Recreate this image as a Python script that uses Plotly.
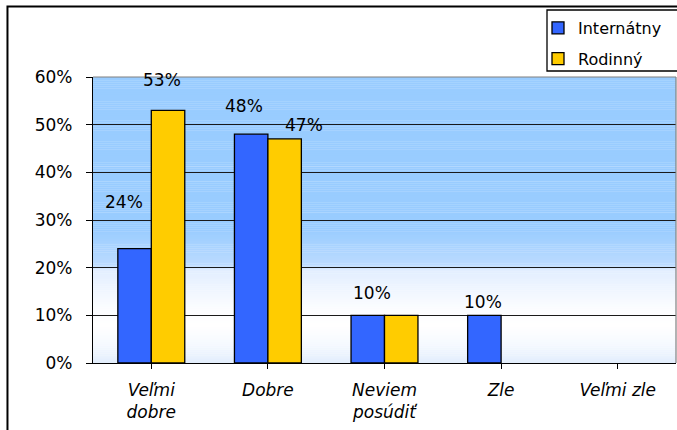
import plotly.graph_objects as go

# ---- data ----
categories = ["Veľmi<br>dobre", "Dobre", "Neviem<br>posúdiť", "Zle", "Veľmi zle"]
internatny = [24, 48, 10, 10, 0]
rodinny = [53, 47, 10, 0, 0]
series_names = ["Internátny", "Rodinný"]
y_ticks = [0, 10, 20, 30, 40, 50, 60]
y_tick_labels = ["0%", "10%", "20%", "30%", "40%", "50%", "60%"]

# ---- styles ----
FONT = "DejaVu Sans"
FS = 17
colors = ["#3366FF", "#FFCC00"]

# which value labels are shown and their pixel offsets (series, category index, dx, dy)
label_specs = [
    (0, 0, -11, 47),
    (1, 0, -6, 30),
    (0, 1, -7, 28),
    (1, 1, 19, 14),
    (0, 2, 4, 22),
    (0, 3, -1, 13),
]

fig = go.Figure()
for name, vals, col in zip(series_names, [internatny, rodinny], colors):
    fig.add_trace(go.Bar(
        name=name, x=list(range(len(categories))), y=vals,
        marker=dict(color=col, line=dict(color="black",
                                         width=[1.3 if v > 0 else 0 for v in vals])),
        legendgroup=name,
    ))

# value labels
all_series = [internatny, rodinny]
bar_off = 0.1435
for s, ci, dx, dy in label_specs:
    v = all_series[s][ci]
    fig.add_annotation(
        x=ci + (-bar_off if s == 0 else bar_off), y=v, xref="x", yref="y",
        text=f"{v}%", showarrow=False, xanchor="center", yanchor="middle",
        xshift=dx, yshift=dy, font=dict(family=FONT, size=FS, color="black"),
    )

# gradient background (percent value, color)
stops = [
    (0, (0xE2, 0xED, 0xFC)),
    (4, (0xF6, 0xFA, 0xFF)),
    (8, (0xFF, 0xFF, 0xFF)),
    (12, (0xFA, 0xFC, 0xFF)),
    (19.5, (0xE2, 0xEE, 0xFF)),
    (20.5, (0xBC, 0xDB, 0xFF)),
    (28, (0x99, 0xCC, 0xFF)),
    (60, (0x99, 0xCC, 0xFF)),
]

def col_at(v):
    for (a, ca), (b, cb) in zip(stops[:-1], stops[1:]):
        if a <= v <= b:
            t = (v - a) / (b - a) if b > a else 0
            c = [round(ca[i] + (cb[i] - ca[i]) * t) for i in range(3)]
            return f"rgb({c[0]},{c[1]},{c[2]})"
    return "rgb(153,204,255)"

shapes = []
n = 150
for i in range(n):
    v0 = 60 * i / n
    v1 = 60 * (i + 1) / n
    shapes.append(dict(type="rect", xref="paper", yref="y", x0=0, x1=1, y0=v0, y1=v1 + 0.05,
                       fillcolor=col_at((v0 + v1) / 2), line=dict(width=0), layer="below"))
# plot area top/right border
shapes.append(dict(type="line", xref="paper", yref="paper", x0=0, x1=1, y0=1, y1=1,
                   line=dict(color="#808080", width=1.2), layer="above"))
shapes.append(dict(type="line", xref="paper", yref="paper", x0=1, x1=1, y0=0, y1=1,
                   line=dict(color="#808080", width=1.2), layer="above"))
# outer chart frame (cropped on right/bottom)
shapes.append(dict(type="rect", xref="paper", yref="paper", x0=-0.1467, x1=1.3, y0=-0.5, y1=1.2465,
                   line=dict(color="black", width=2), fillcolor="rgba(0,0,0,0)", layer="above"))
# legend box (cropped on the right like the reference)
shapes.append(dict(type="rect", xref="paper", yref="paper",
                   x0=(547 - 93) / 583, x1=1.3, y0=(363 - 71) / 286, y1=(363 - 10) / 286,
                   line=dict(color="black", width=1.3), fillcolor="white", layer="above"))

fig.update_layout(
    width=677, height=430,
    margin=dict(l=93, r=1, t=77, b=67, autoexpand=False),
    paper_bgcolor="white", plot_bgcolor="white",
    barmode="group", bargap=0.426, bargroupgap=0,
    font=dict(family=FONT, size=FS, color="black"),
    shapes=shapes,
    showlegend=True,
    legend=dict(
        x=(538 - 93) / 583, y=(363 - 11) / 286, xanchor="left", yanchor="top",
        borderwidth=0, bgcolor="rgba(0,0,0,0)",
        font=dict(family=FONT, size=16, color="black"),
        traceorder="grouped", tracegroupgap=7, itemwidth=30,
    ),
    xaxis=dict(
        tickmode="array", tickvals=list(range(len(categories))), ticktext=categories,
        range=[-0.5, len(categories) - 0.5],
        showline=True, linecolor="black", linewidth=1.3,
        ticks="outside", ticklen=5, tickcolor="black",
        tickfont=dict(family=FONT, size=FS, style="italic"),
        showgrid=False, zeroline=False, ticklabelstandoff=6,
    ),
    yaxis=dict(
        range=[0, 60], tickmode="array", tickvals=y_ticks, ticktext=y_tick_labels,
        showline=True, linecolor="black", linewidth=1.3,
        ticks="outside", ticklen=6, tickcolor="black",
        showgrid=True, gridcolor="#1a1a1a", gridwidth=1.2,
        zeroline=False, ticklabelstandoff=10,
    ),
)

fig.write_html("out.html", config={"displayModeBar": False},
               post_script="document.body.style.margin='0';document.body.style.overflow='hidden';")
